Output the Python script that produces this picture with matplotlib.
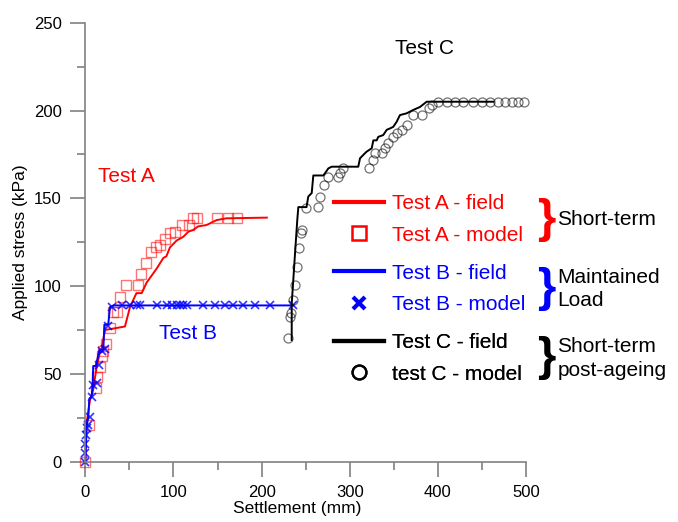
import numpy as np
import matplotlib.pyplot as plt
from matplotlib.lines import Line2D
from matplotlib.ticker import MultipleLocator

plt.rcParams['font.family'] = ['Liberation Sans', 'DejaVu Sans']

# values (settlement mm, applied stress kPa)
testA_field_x = [0, 1.5, 5.3, 9, 11, 13, 16, 18.6, 22.3, 28, 45, 50.7, 58, 64, 69.6,
                 81, 88.5, 92, 96, 103.7, 111, 117, 122.5, 128, 137.7, 149, 160, 206]
testA_field_y = [0, 22, 35, 41, 48, 54, 61, 64, 75, 75.5, 77, 88, 96, 96, 102,
                 110, 116, 117, 122, 126, 128, 131, 132, 134, 134.8, 137.6, 138.6, 139]

testA_model_x = [0, 4.6, 12, 13.6, 16.7, 18.6, 20.5, 24, 28, 31.8, 35.6, 39.4, 46, 60, 63,
                 68.5, 74, 80, 84.7, 90.4, 96, 101.8, 109.4, 118, 122.5, 127, 149, 161.5, 171.7]
testA_model_y = [0, 21, 42, 48, 54, 60, 63, 67, 76, 85, 85.4, 94, 100.6, 100.6, 107,
                 113, 119.6, 122.4, 123.4, 127, 130, 131, 134.8, 134.8, 138.6, 138.6, 138.6, 138.6, 138.6]

testB_field_x = [0, 1.5, 3.4, 4.6, 7.2, 8.4, 9, 12, 16, 20.5, 21.6, 26, 28, 31.8, 236]
testB_field_y = [0, 20, 25.6, 36, 37, 43.7, 54.5, 54.5, 63.6, 64, 78, 78, 88, 89, 89]

testB_model_x = [0, 0, 0, 1, 1.5, 3.4, 5.3, 7.2, 9, 12.8, 16, 18.6, 22.4, 26, 30, 41.3,
                 50.7, 58.3, 62, 81, 92.3, 98, 103.7, 107.4, 111, 115, 134, 147, 158.5,
                 168, 179, 192.5, 209.6, 236]
testB_model_y = [0, 5, 10, 15, 19, 21, 25.6, 37, 43.5, 45, 55, 63, 64, 77, 88, 89,
                 89, 89, 89, 89, 89, 89, 89, 89, 89, 89, 89, 89, 89,
                 89, 89, 89, 89, 89]

testC_field_x = [234.2, 234.2, 236, 238, 240.5, 241.7, 251, 253, 256.9, 258.7, 270, 273,
                 275.7, 279.5, 309.7, 311.7, 315.4, 319, 325, 326.8, 330.6, 332.4, 338,
                 342, 345.7, 349.4, 353.3, 357, 364.6, 372, 379.7, 387.3, 463]
testC_field_y = [69.3, 90, 103.5, 119, 137.6, 145, 145, 151, 153, 163, 163, 165,
                 167, 168, 168, 172.8, 174.7, 176.5, 178.5, 183, 183, 185, 186,
                 189, 189.8, 190.7, 193.6, 197.4, 198.4, 200.3, 202, 205, 205]

testC_model_x = [230.4, 232.3, 233, 235.3, 238, 239.8, 242.5, 244.7, 245.5, 250.4, 263.7,
                 266.3, 271.2, 275.7, 287, 289, 292.7, 322.2, 326.8, 328.7, 336.3, 340,
                 343.8, 349.4, 353.3, 359, 364.6, 372, 382.3, 390.3, 393, 400.5, 410,
                 419.5, 429, 440.2, 449.7, 459.2, 468.6, 476, 483.8, 491.3, 497.7]
testC_model_y = [70.3, 82.6, 84.5, 92, 100.6, 111, 121.5, 130, 132, 144.3, 145.2,
                 151, 157.6, 162.3, 162.3, 164.2, 167, 167, 171.8, 175.6, 175.6, 178.5,
                 181.7, 185, 187, 188.9, 191.7, 197.4, 197.4, 201.2, 203, 205, 205,
                 205, 205, 205, 205, 205, 205, 205, 205, 205, 205]

fig = plt.figure(figsize=(6.78, 5.22), dpi=100)
ax = fig.add_axes([0.1258, 0.1155, 0.65, 0.841])

ax.plot(testA_model_x, testA_model_y, ls='none', marker='s', ms=6.5, mfc='none',
        mec='red', mew=1.0, alpha=0.55, clip_on=False)
ax.plot(testA_field_x, testA_field_y, color='red', lw=1.4)
ax.plot(testB_field_x, testB_field_y, color='blue', lw=1.4)
ax.plot(testB_model_x, testB_model_y, ls='none', marker='x', ms=6, mec='blue',
        mew=1.2, alpha=0.8, clip_on=False)
ax.plot(testC_field_x, testC_field_y, color='black', lw=1.4)
ax.plot(testC_model_x, testC_model_y, ls='none', marker='o', ms=6.5, mfc='none',
        mec='black', mew=0.9, alpha=0.55, clip_on=False)

ax.set_xlim(0, 500)
ax.set_ylim(0, 250)
ax.xaxis.set_major_locator(MultipleLocator(100))
ax.xaxis.set_minor_locator(MultipleLocator(50))
ax.yaxis.set_major_locator(MultipleLocator(50))
ax.yaxis.set_minor_locator(MultipleLocator(25))
for s in ['top', 'right']:
    ax.spines[s].set_visible(False)
for s in ['left', 'bottom']:
    ax.spines[s].set_color('#808080')
    ax.spines[s].set_linewidth(1.2)
ax.tick_params(which='major', direction='out', length=11, width=1.2, color='#808080',
               labelsize=12, pad=6)
ax.tick_params(which='minor', direction='out', length=5.5, width=1.2, color='#808080')
ax.set_xlabel('Settlement (mm)', fontsize=12.5, labelpad=3)
ax.xaxis.set_label_coords(0.48, -0.09)
ax.set_ylabel('Applied stress (kPa)', fontsize=12.5, labelpad=4)

ax.text(14.7, 162.3, 'Test A', color='red', fontsize=15, va='center')
ax.text(84, 73, 'Test B', color='blue', fontsize=15, va='center')
ax.text(351.4, 235.2, 'Test C', color='black', fontsize=15, va='center')

# three legend groups with brackets
groups = [
    ('red', [Line2D([], [], color='red', lw=3),
             Line2D([], [], ls='none', marker='s', ms=10, mfc='none', mec='red', mew=1.8)],
     ['Test A - field', 'Test A - model'], 0.5795, 'Short-term'),
    ('blue', [Line2D([], [], color='blue', lw=3),
              Line2D([], [], ls='none', marker='x', ms=9, mec='blue', mew=3)],
     ['Test B - field', 'Test B - model'], 0.4465, 'Maintained\nLoad'),
    ('black', [Line2D([], [], color='black', lw=3),
               Line2D([], [], ls='none', marker='o', ms=10, mfc='none', mec='black', mew=1.6)],
     ['Test C - field', 'test C - model'], 0.3135, 'Short-term\npost-ageing'),
]
for col, handles, labels, yc, note in groups:
    leg = ax.legend(handles, labels, loc='center left', bbox_to_anchor=(0.4926, yc),
                    bbox_transform=fig.transFigure, frameon=False, fontsize=15,
                    borderpad=0, borderaxespad=0, handlelength=2.4, handletextpad=0.4,
                    labelspacing=0.6, labelcolor=col)
    ax.add_artist(leg)
    fig.text(0.805, yc, '}', color=col, fontsize=34, fontweight='bold',
             ha='center', va='center')
    fig.text(0.822, yc, note, color='black', fontsize=15, ha='left', va='center',
             linespacing=1.3)

fig.savefig('out.png', dpi=100)
